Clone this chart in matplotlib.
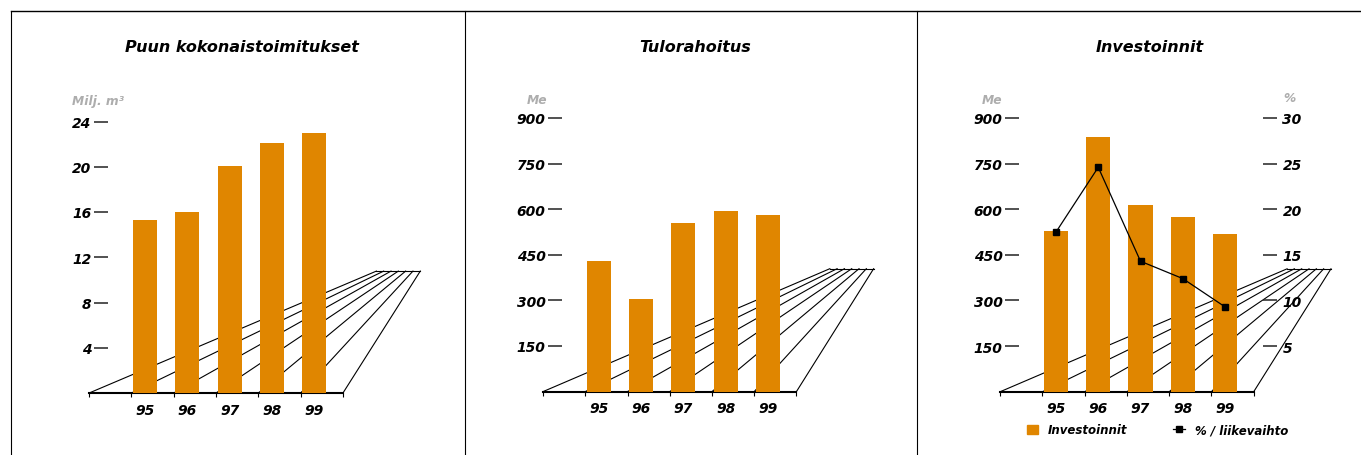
import numpy as np
import matplotlib
matplotlib.use('Agg')
import matplotlib.pyplot as plt
from matplotlib.lines import Line2D
from matplotlib.patches import Patch

W, H = 1361, 456
ORANGE = '#E08600'
GRAY = '#ADADAD'

years = ['95', '96', '97', '98', '99']
wood = [15.3, 16.0, 20.1, 22.1, 23.0]
tulo = [430, 305, 556, 593, 580]
invest = [527, 837, 613, 576, 517]
invest_pct = [17.5, 24.6, 14.3, 12.4, 9.3]

plt.rcParams['font.family'] = ['DejaVu Sans']
plt.rcParams['font.weight'] = 'bold'
plt.rcParams['font.style'] = 'oblique'

fig = plt.figure(figsize=(W / 100, H / 100), dpi=100)


def fx(px):
    return px / W


def fy(py):
    return 1 - py / H


def make_ax(x0px, step, base_px, top_px, ymax, xlim=(-1.32, 6.6)):
    left = x0px + xlim[0] * step
    right = x0px + xlim[1] * step
    ax = fig.add_axes([fx(left), fy(base_px), (right - left) / W,
                       (base_px - top_px) / H])
    ax.set_xlim(xlim)
    ax.set_ylim(0, ymax)
    ax.patch.set_alpha(0)
    for s in ax.spines.values():
        s.set_visible(False)
    ax.spines['left'].set_position(('data', -0.87))
    return ax


def draw_floor(ax, ymax):
    # perspective floor: lines from the front edge to the back edge
    n = 7
    front = -1.32 + np.arange(n)
    back = 5.47 + 0.173 * np.arange(n)
    yb = ymax * 0.449
    for f, b in zip(front, back):
        ax.plot([f, b], [0, yb], color='black', lw=0.8, zorder=1, clip_on=False)
    ax.plot([back[0], back[-1]], [yb, yb], color='black', lw=0.8, zorder=1,
            clip_on=False)
    ax.plot([front[0], front[-1]], [0, 0], color='black', lw=1.5, zorder=1,
            clip_on=False)
    ax.set_xticks(front, minor=True)
    ax.tick_params(axis='x', which='minor', length=3, width=0.8, direction='out')


def style_ax(ax, yticks):
    x = np.arange(len(years))
    ax.set_xticks(x)
    ax.set_xticklabels(years)
    ax.tick_params(axis='x', which='major', length=0, pad=7, labelsize=10)
    ax.set_yticks(yticks)
    ax.tick_params(axis='y', length=10, width=1.1, color='#222', pad=2,
                   labelsize=10, direction='out')


# panel 1
ax1 = make_ax(145, 42.3, 394, 122.5, 24)
draw_floor(ax1, 24)
ax1.bar(np.arange(5), wood, width=0.57, color=ORANGE, zorder=3)
style_ax(ax1, [4, 8, 12, 16, 20, 24])

# panel 2
ax2 = make_ax(599, 42.2, 392.5, 119, 900)
draw_floor(ax2, 900)
ax2.bar(np.arange(5), tulo, width=0.57, color=ORANGE, zorder=3)
style_ax(ax2, [150, 300, 450, 600, 750, 900])

# panel 3
ax3 = make_ax(1056, 42.25, 392.7, 119, 900)
draw_floor(ax3, 900)
ax3.bar(np.arange(5), invest, width=0.57, color=ORANGE, zorder=3)
style_ax(ax3, [150, 300, 450, 600, 750, 900])

ax3r = ax3.twinx()
ax3r.set_ylim(0, 30)
for s in ax3r.spines.values():
    s.set_visible(False)
ax3r.spines['right'].set_position(('data', 4.9))
ax3r.set_yticks([5, 10, 15, 20, 25, 30])
ax3r.tick_params(axis='y', length=10, width=1.1, color='#222', pad=4,
                 labelsize=10, direction='out')
ax3r.plot(np.arange(5), invest_pct, color='black', lw=0.9, marker='s',
          markersize=5, zorder=5)

# legend
handles = [Patch(color=ORANGE),
           Line2D([], [], color='black', lw=0.9, marker='s', markersize=5)]
ax3.legend(handles, ['Investoinnit', '% / liikevaihto'], ncol=2,
           frameon=False, loc='center left',
           bbox_to_anchor=(fx(1016), fy(431)),
           bbox_transform=fig.transFigure, fontsize=8.5,
           handlelength=0.95, handleheight=0.9, columnspacing=3.9,
           handletextpad=0.85)

# titles and units
fig.text(fx(242), fy(47), 'Puun kokonaistoimitukset', ha='center',
         va='center', fontsize=11.5)
fig.text(fx(695), fy(47), 'Tulorahoitus', ha='center', va='center',
         fontsize=11.5)
fig.text(fx(1150), fy(47), 'Investoinnit', ha='center', va='center',
         fontsize=11.5)
fig.text(fx(72), fy(101), 'Milj. m³', ha='left', va='center', fontsize=8.8,
         color=GRAY)
fig.text(fx(527), fy(100), 'Me', ha='left', va='center', fontsize=8.8,
         color=GRAY)
fig.text(fx(982), fy(100), 'Me', ha='left', va='center', fontsize=8.8,
         color=GRAY)
fig.text(fx(1289), fy(98), '%', ha='center', va='center', fontsize=8.8,
         color=GRAY)

# frame
fig.add_artist(Line2D([fx(11), 1], [fy(11.5), fy(11.5)], color='black', lw=1))
for xp in [11, 465, 917]:
    fig.add_artist(Line2D([fx(xp), fx(xp)], [fy(11.5), 0], color='black', lw=0.8))

fig.savefig('out.png', dpi=100)
